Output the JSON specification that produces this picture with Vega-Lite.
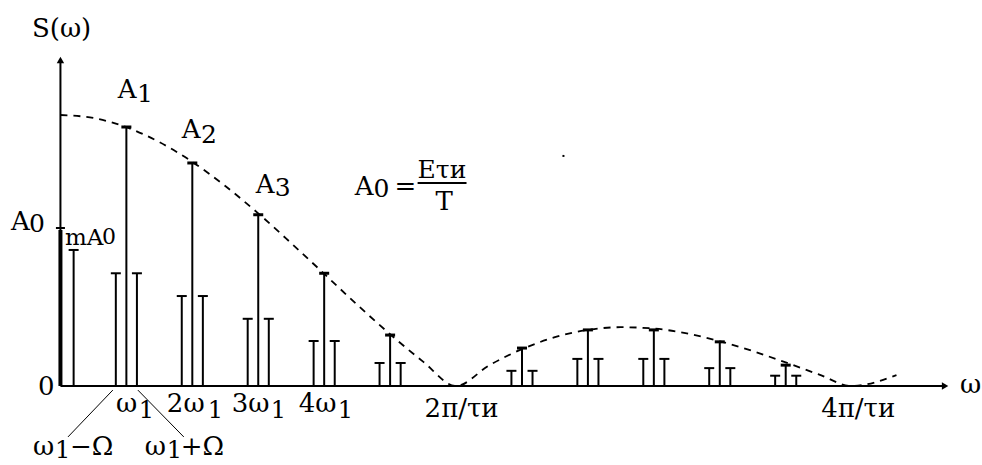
{
  "$schema": "https://vega.github.io/schema/vega-lite/v6.json",
  "width": 982,
  "height": 465,
  "autosize": {"type": "fit", "contains": "padding"},
  "padding": 0,
  "background": "white",
  "config": {"view": {"stroke": null}},
  "datasets": {
    "env": [
      {"w": 0, "a": 1.0}, {"w": 0.5, "a": 0.989}, {"w": 1, "a": 0.955}, {"w": 1.5, "a": 0.9},
      {"w": 2, "a": 0.827}, {"w": 2.5, "a": 0.738}, {"w": 3, "a": 0.637}, {"w": 3.5, "a": 0.527},
      {"w": 4, "a": 0.414}, {"w": 4.5, "a": 0.3}, {"w": 5, "a": 0.191}, {"w": 5.5, "a": 0.09},
      {"w": 6, "a": 0.0}, {"w": 6.5, "a": 0.076}, {"w": 7, "a": 0.136}, {"w": 7.5, "a": 0.18},
      {"w": 8, "a": 0.207}, {"w": 8.5, "a": 0.217}, {"w": 9, "a": 0.212}, {"w": 9.5, "a": 0.194},
      {"w": 10, "a": 0.165}, {"w": 10.5, "a": 0.129}, {"w": 11, "a": 0.087}, {"w": 11.5, "a": 0.043},
      {"w": 12, "a": 0.0}, {"w": 12.68, "a": 0.04}
    ],
    "stems": [
      {"w": 0, "a": 0.576, "kind": "dc"},
      {"w": 0.2, "a": 0.502, "kind": "side"},
      {"w": 1, "a": 0.956, "kind": "center"}, {"w": 0.84, "a": 0.416, "kind": "side"}, {"w": 1.16, "a": 0.416, "kind": "side"},
      {"w": 2, "a": 0.823, "kind": "center"}, {"w": 1.84, "a": 0.332, "kind": "side"}, {"w": 2.16, "a": 0.332, "kind": "side"},
      {"w": 3, "a": 0.632, "kind": "center"}, {"w": 2.84, "a": 0.248, "kind": "side"}, {"w": 3.16, "a": 0.248, "kind": "side"},
      {"w": 4, "a": 0.416, "kind": "center"}, {"w": 3.84, "a": 0.166, "kind": "side"}, {"w": 4.16, "a": 0.166, "kind": "side"},
      {"w": 5, "a": 0.188, "kind": "center"}, {"w": 4.84, "a": 0.085, "kind": "side"}, {"w": 5.16, "a": 0.085, "kind": "side"},
      {"w": 7, "a": 0.14, "kind": "center"}, {"w": 6.84, "a": 0.056, "kind": "side"}, {"w": 7.16, "a": 0.056, "kind": "side"},
      {"w": 8, "a": 0.207, "kind": "center"}, {"w": 7.84, "a": 0.1, "kind": "side"}, {"w": 8.16, "a": 0.1, "kind": "side"},
      {"w": 9, "a": 0.207, "kind": "center"}, {"w": 8.84, "a": 0.1, "kind": "side"}, {"w": 9.16, "a": 0.1, "kind": "side"},
      {"w": 10, "a": 0.163, "kind": "center"}, {"w": 9.84, "a": 0.066, "kind": "side"}, {"w": 10.16, "a": 0.066, "kind": "side"},
      {"w": 11, "a": 0.077, "kind": "center"}, {"w": 10.84, "a": 0.038, "kind": "side"}, {"w": 11.16, "a": 0.038, "kind": "side"}
    ],
    "axes": [
      {"w": 0, "a": 0, "w2": 0, "a2": 1.203},
      {"w": 0, "a": 0, "w2": 13.417, "a2": 0}
    ],
    "arrows": [
      {"w": 0, "a": 1.203, "dir": "up"},
      {"w": 13.417, "a": 0, "dir": "right"}
    ],
    "ytick": [{"w": 0, "a": 0.583}],
    "leaders": [
      {"w": 0.795, "a": -0.015, "w2": 0.114, "a2": -0.188},
      {"w": 1.174, "a": -0.015, "w2": 1.871, "a2": -0.188}
    ],
    "bar": [{"w": 5.417, "a": 0.749, "w2": 6.159}],
    "dot": [{"w": 7.629, "a": 0.849}],
    "labels": [
      {"w": -0.432, "a": 1.288, "t": "S(ω)", "role": "main"},
      {"w": 0.871, "a": 1.063, "t": "A", "role": "main"},
      {"w": 1.16, "a": 1.048, "t": "1", "role": "sub"},
      {"w": 1.841, "a": 0.915, "t": "A", "role": "main"},
      {"w": 2.13, "a": 0.897, "t": "2", "role": "sub"},
      {"w": 2.962, "a": 0.712, "t": "A", "role": "main"},
      {"w": 3.25, "a": 0.701, "t": "3", "role": "sub"},
      {"w": -0.75, "a": 0.576, "t": "A", "role": "main"},
      {"w": -0.477, "a": 0.568, "t": "0", "role": "sub"},
      {"w": 0.068, "a": 0.52, "t": "mA", "role": "small"},
      {"w": 0.629, "a": 0.524, "t": "0", "role": "tiny"},
      {"w": -0.341, "a": -0.033, "t": "0", "role": "main"},
      {"w": 0.841, "a": -0.096, "t": "ω", "role": "main"},
      {"w": 1.189, "a": -0.118, "t": "1", "role": "sub2"},
      {"w": 1.614, "a": -0.096, "t": "2ω", "role": "main"},
      {"w": 2.235, "a": -0.118, "t": "1", "role": "sub2"},
      {"w": 2.598, "a": -0.096, "t": "3ω", "role": "main"},
      {"w": 3.189, "a": -0.118, "t": "1", "role": "sub2"},
      {"w": 3.614, "a": -0.096, "t": "4ω", "role": "main"},
      {"w": 4.205, "a": -0.118, "t": "1", "role": "sub2"},
      {"w": 5.523, "a": -0.114, "t": "2π/τи", "role": "main"},
      {"w": 11.538, "a": -0.114, "t": "4π/τи", "role": "main"},
      {"w": 13.644, "a": -0.026, "t": "ω", "role": "main"},
      {"w": -0.417, "a": -0.255, "t": "ω", "role": "main"},
      {"w": -0.083, "a": -0.266, "t": "1", "role": "sub2"},
      {"w": 0.144, "a": -0.255, "t": "−Ω", "role": "main"},
      {"w": 1.28, "a": -0.255, "t": "ω", "role": "main"},
      {"w": 1.614, "a": -0.266, "t": "1", "role": "sub2"},
      {"w": 1.826, "a": -0.255, "t": "+Ω", "role": "main"},
      {"w": 4.462, "a": 0.705, "t": "A", "role": "main"},
      {"w": 4.75, "a": 0.697, "t": "0", "role": "sub"},
      {"w": 5.068, "a": 0.705, "t": "=", "role": "main"},
      {"w": 5.417, "a": 0.768, "t": "Eτи", "role": "sub"},
      {"w": 5.689, "a": 0.649, "t": "T", "role": "main"}
    ]
  },
  "encoding": {
    "x": {"field": "w", "type": "quantitative", "axis": null,
          "scale": {"domain": [-0.9167, 13.962], "nice": false, "zero": false, "padding": 0}},
    "y": {"field": "a", "type": "quantitative", "axis": null,
          "scale": {"domain": [-0.2915, 1.4244], "nice": false, "zero": false, "padding": 0}}
  },
  "layer": [
    {
      "data": {"name": "env"},
      "mark": {"type": "line", "color": "black", "strokeWidth": 1.8, "strokeDash": [7, 6], "interpolate": "monotone"},
      "encoding": {}
    },
    {
      "data": {"name": "axes"},
      "mark": {"type": "rule", "color": "black", "strokeWidth": 2},
      "encoding": {"x2": {"field": "w2"}, "y2": {"field": "a2"}}
    },
    {
      "data": {"name": "arrows"},
      "transform": [{"filter": "datum.dir === 'up'"}],
      "mark": {"type": "point", "shape": "triangle-up", "filled": true, "color": "black", "size": 55, "opacity": 1},
      "encoding": {}
    },
    {
      "data": {"name": "arrows"},
      "transform": [{"filter": "datum.dir === 'right'"}],
      "mark": {"type": "point", "shape": "triangle-right", "filled": true, "color": "black", "size": 55, "opacity": 1},
      "encoding": {}
    },
    {
      "data": {"name": "stems"},
      "transform": [{"filter": "datum.kind === 'dc'"}],
      "mark": {"type": "rule", "color": "black", "strokeWidth": 4},
      "encoding": {"y2": {"datum": 0}}
    },
    {
      "data": {"name": "stems"},
      "transform": [{"filter": "datum.kind !== 'dc'"}],
      "mark": {"type": "rule", "color": "black", "strokeWidth": 2},
      "encoding": {"y2": {"datum": 0}}
    },
    {
      "data": {"name": "stems"},
      "transform": [{"filter": "datum.kind === 'side'"}],
      "mark": {"type": "tick", "orient": "horizontal", "color": "black", "size": 10, "thickness": 2, "opacity": 1},
      "encoding": {}
    },
    {
      "data": {"name": "stems"},
      "transform": [{"filter": "datum.kind === 'center'"}],
      "mark": {"type": "tick", "orient": "horizontal", "color": "black", "size": 10, "thickness": 3, "opacity": 1},
      "encoding": {}
    },
    {
      "data": {"name": "ytick"},
      "mark": {"type": "tick", "orient": "horizontal", "color": "black", "size": 9, "thickness": 2, "opacity": 1},
      "encoding": {}
    },
    {
      "data": {"name": "leaders"},
      "mark": {"type": "rule", "color": "black", "strokeWidth": 1},
      "encoding": {"x2": {"field": "w2"}, "y2": {"field": "a2"}}
    },
    {
      "data": {"name": "bar"},
      "mark": {"type": "rule", "color": "black", "strokeWidth": 2},
      "encoding": {"x2": {"field": "w2"}}
    },
    {
      "data": {"name": "dot"},
      "mark": {"type": "point", "shape": "square", "filled": true, "color": "black", "size": 4, "opacity": 1},
      "encoding": {}
    },
    {
      "data": {"name": "labels"},
      "mark": {"type": "text", "font": "DejaVu Serif", "color": "black", "align": "left", "baseline": "alphabetic"},
      "encoding": {
        "text": {"field": "t"},
        "size": {"field": "role", "type": "ordinal", "legend": null,
                 "scale": {"domain": ["main", "sub", "sub2", "small", "tiny"], "range": [26, 22, 17, 18, 12]}}
      }
    }
  ]
}
